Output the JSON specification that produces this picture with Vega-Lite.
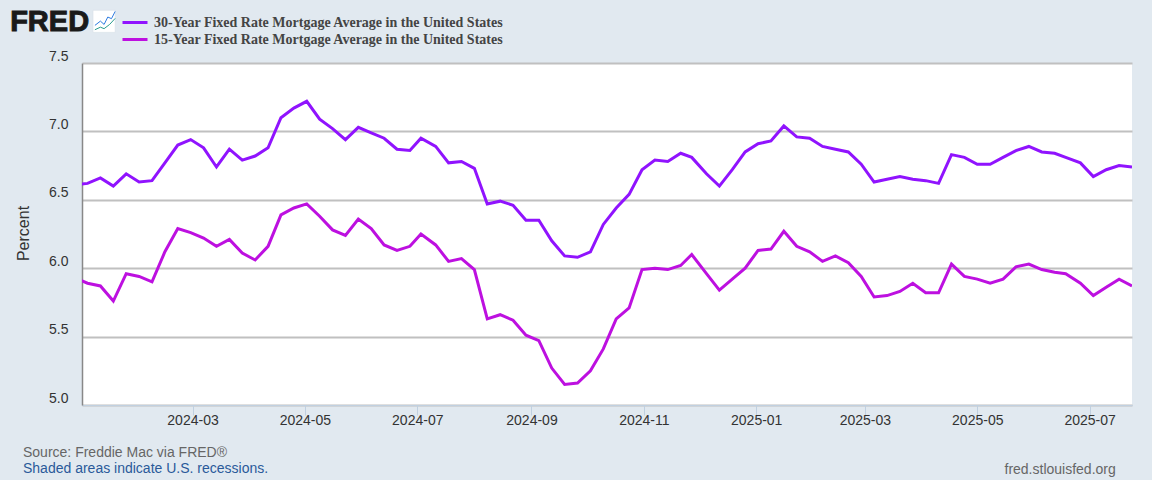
{"$schema":"https://vega.github.io/schema/vega-lite/v6.json","width":1050,"height":342,"autosize":{"type":"none"},"padding":{"left":82,"top":63,"right":20,"bottom":75},"background":"#e1e9f0","view":{"fill":"#ffffff","stroke":null},"config":{"font":"Liberation Sans"},
"title":{"text":"Source: Freddie Mac via FRED®","subtitle":"Shaded areas indicate U.S. recessions.","orient":"bottom","anchor":"start","frame":"group","dx":-59,"offset":-30,"font":"Liberation Sans","fontSize":14,"fontWeight":"normal","color":"#666666","subtitleFont":"Liberation Sans","subtitleFontSize":14,"subtitleColor":"#2a5a9a","subtitlePadding":2},
"datasets":{"rates":[
{"date":"2023-12-28","r30":6.61,"r15":5.93},{"date":"2024-01-04","r30":6.62,"r15":5.89},{"date":"2024-01-11","r30":6.66,"r15":5.87},{"date":"2024-01-18","r30":6.60,"r15":5.76},{"date":"2024-01-25","r30":6.69,"r15":5.96},{"date":"2024-02-01","r30":6.63,"r15":5.94},{"date":"2024-02-08","r30":6.64,"r15":5.90},{"date":"2024-02-15","r30":6.77,"r15":6.12},{"date":"2024-02-22","r30":6.90,"r15":6.29},{"date":"2024-02-29","r30":6.94,"r15":6.26},{"date":"2024-03-07","r30":6.88,"r15":6.22},{"date":"2024-03-14","r30":6.74,"r15":6.16},{"date":"2024-03-21","r30":6.87,"r15":6.21},{"date":"2024-03-28","r30":6.79,"r15":6.11},{"date":"2024-04-04","r30":6.82,"r15":6.06},{"date":"2024-04-11","r30":6.88,"r15":6.16},{"date":"2024-04-18","r30":7.10,"r15":6.39},{"date":"2024-04-25","r30":7.17,"r15":6.44},{"date":"2024-05-02","r30":7.22,"r15":6.47},{"date":"2024-05-09","r30":7.09,"r15":6.38},{"date":"2024-05-16","r30":7.02,"r15":6.28},{"date":"2024-05-23","r30":6.94,"r15":6.24},{"date":"2024-05-30","r30":7.03,"r15":6.36},{"date":"2024-06-06","r30":6.99,"r15":6.29},{"date":"2024-06-13","r30":6.95,"r15":6.17},{"date":"2024-06-20","r30":6.87,"r15":6.13},{"date":"2024-06-27","r30":6.86,"r15":6.16},{"date":"2024-07-03","r30":6.95,"r15":6.25},{"date":"2024-07-11","r30":6.89,"r15":6.17},{"date":"2024-07-18","r30":6.77,"r15":6.05},{"date":"2024-07-25","r30":6.78,"r15":6.07},{"date":"2024-08-01","r30":6.73,"r15":5.99},{"date":"2024-08-08","r30":6.47,"r15":5.63},{"date":"2024-08-15","r30":6.49,"r15":5.66},{"date":"2024-08-22","r30":6.46,"r15":5.62},{"date":"2024-08-29","r30":6.35,"r15":5.51},{"date":"2024-09-05","r30":6.35,"r15":5.47},{"date":"2024-09-12","r30":6.20,"r15":5.27},{"date":"2024-09-19","r30":6.09,"r15":5.15},{"date":"2024-09-26","r30":6.08,"r15":5.16},{"date":"2024-10-03","r30":6.12,"r15":5.25},{"date":"2024-10-10","r30":6.32,"r15":5.41},{"date":"2024-10-17","r30":6.44,"r15":5.63},{"date":"2024-10-24","r30":6.54,"r15":5.71},{"date":"2024-10-31","r30":6.72,"r15":5.99},{"date":"2024-11-07","r30":6.79,"r15":6.00},{"date":"2024-11-14","r30":6.78,"r15":5.99},{"date":"2024-11-21","r30":6.84,"r15":6.02},{"date":"2024-11-27","r30":6.81,"r15":6.10},{"date":"2024-12-05","r30":6.69,"r15":5.96},{"date":"2024-12-12","r30":6.60,"r15":5.84},{"date":"2024-12-19","r30":6.72,"r15":5.92},{"date":"2024-12-26","r30":6.85,"r15":6.00},{"date":"2025-01-02","r30":6.91,"r15":6.13},{"date":"2025-01-09","r30":6.93,"r15":6.14},{"date":"2025-01-16","r30":7.04,"r15":6.27},{"date":"2025-01-23","r30":6.96,"r15":6.16},{"date":"2025-01-30","r30":6.95,"r15":6.12},{"date":"2025-02-06","r30":6.89,"r15":6.05},{"date":"2025-02-13","r30":6.87,"r15":6.09},{"date":"2025-02-20","r30":6.85,"r15":6.04},{"date":"2025-02-27","r30":6.76,"r15":5.94},{"date":"2025-03-06","r30":6.63,"r15":5.79},{"date":"2025-03-13","r30":6.65,"r15":5.80},{"date":"2025-03-20","r30":6.67,"r15":5.83},{"date":"2025-03-27","r30":6.65,"r15":5.89},{"date":"2025-04-03","r30":6.64,"r15":5.82},{"date":"2025-04-10","r30":6.62,"r15":5.82},{"date":"2025-04-17","r30":6.83,"r15":6.03},{"date":"2025-04-24","r30":6.81,"r15":5.94},{"date":"2025-05-01","r30":6.76,"r15":5.92},{"date":"2025-05-08","r30":6.76,"r15":5.89},{"date":"2025-05-15","r30":6.81,"r15":5.92},{"date":"2025-05-22","r30":6.86,"r15":6.01},{"date":"2025-05-29","r30":6.89,"r15":6.03},{"date":"2025-06-05","r30":6.85,"r15":5.99},{"date":"2025-06-12","r30":6.84,"r15":5.97},{"date":"2025-06-18","r30":6.81,"r15":5.96},{"date":"2025-06-26","r30":6.77,"r15":5.89},{"date":"2025-07-03","r30":6.67,"r15":5.80},{"date":"2025-07-10","r30":6.72,"r15":5.86},{"date":"2025-07-17","r30":6.75,"r15":5.92},{"date":"2025-07-24","r30":6.74,"r15":5.87}],
"icon":[
{"date":"2024-01-08","v":7.775,"s":"b"},{"date":"2024-01-11","v":7.806,"s":"b"},{"date":"2024-01-13","v":7.782,"s":"b"},{"date":"2024-01-15","v":7.836,"s":"b"},{"date":"2024-01-17","v":7.824,"s":"b"},{"date":"2024-01-19","v":7.877,"s":"b"},
{"date":"2024-01-08","v":7.743,"s":"g"},{"date":"2024-01-11","v":7.762,"s":"g"},{"date":"2024-01-13","v":7.751,"s":"g"},{"date":"2024-01-16","v":7.782,"s":"g"},{"date":"2024-01-19","v":7.826,"s":"g"}]},
"layer":[
{"data":{"name":"rates"},"transform":[{"fold":["r30","r15"],"as":["k","rate"]},{"calculate":"datum.k==='r30'?'30-Year Fixed Rate Mortgage Average in the United States':'15-Year Fixed Rate Mortgage Average in the United States'","as":"series"}],
"mark":{"type":"line","clip":true,"strokeWidth":3,"strokeJoin":"miter","interpolate":"linear"},
"encoding":{
"x":{"field":"date","type":"temporal","scale":{"type":"utc","domain":[{"year":2024,"month":1,"date":1,"utc":true},{"year":2025,"month":7,"date":24,"utc":true}]},
"axis":{"title":"fred.stlouisfed.org","titleX":922,"titleY":57,"titleAlign":"left","titleFontSize":14,"titleFontWeight":"normal","titleColor":"#666666","titleFont":"Liberation Sans","grid":false,"domain":true,"domainColor":"#c0d0e0","domainWidth":1,"tickColor":"#c0d0e0","tickSize":10,"tickWidth":1,"labelColor":"#333333","labelFontSize":14,"labelPadding":-2,"labelAlign":"center","labelFont":"Liberation Sans","labelExpr":"utcFormat(datum.value,'%Y-%m')","values":[{"year":2024,"month":3,"date":1,"utc":true},{"year":2024,"month":5,"date":1,"utc":true},{"year":2024,"month":7,"date":1,"utc":true},{"year":2024,"month":9,"date":1,"utc":true},{"year":2024,"month":11,"date":1,"utc":true},{"year":2025,"month":1,"date":1,"utc":true},{"year":2025,"month":3,"date":1,"utc":true},{"year":2025,"month":5,"date":1,"utc":true},{"year":2025,"month":7,"date":1,"utc":true}]}},
"y":{"field":"rate","type":"quantitative","scale":{"domain":[5,7.5],"nice":false,"zero":false},
"axis":{"title":"Percent","titleX":-59,"titleY":170,"titleFontSize":16,"titleFontWeight":"normal","titleColor":"#333333","titleFont":"Liberation Sans","titleAlign":"center","titleBaseline":"middle","values":[5,5.5,6,6.5,7,7.5],"format":".1f","grid":true,"gridColor":"#c0c0c0","gridWidth":2,"domainColor":"#888888","domainWidth":1.5,"ticks":false,"labelColor":"#333333","labelFontSize":14,"labelPadding":14,"labelBaseline":"alphabetic","labelOffset":-3,"labelFont":"Liberation Sans"}},
"color":{"field":"series","type":"nominal","scale":{"domain":["30-Year Fixed Rate Mortgage Average in the United States","15-Year Fixed Rate Mortgage Average in the United States"],"range":["#9013fe","#bd10e0"]},
"legend":{"title":null,"orient":"none","legendX":43,"legendY":-50.5,"symbolType":"M-1.47,0H1.47","symbolSize":289,"symbolStrokeWidth":3,"labelFont":"Liberation Serif","labelFontSize":14,"labelFontWeight":"bold","labelColor":"#444444","labelLimit":500,"rowPadding":0,"labelOffset":9,"padding":0}}}},
{"data":{"values":[{"label":"FRED"}]},"mark":{"type":"text","align":"left","baseline":"alphabetic","font":"Liberation Sans","fontWeight":"bold","fontSize":29,"color":"#1a1a1a","stroke":"#1a1a1a","strokeWidth":1},"encoding":{"x":{"datum":{"year":2023,"month":11,"date":23,"utc":true},"type":"temporal"},"y":{"datum":7.731,"type":"quantitative"},"text":{"field":"label"}}},
{"data":{"values":[{"icon":"box"}]},"mark":{"type":"rect","fill":"#ffffff","stroke":"#d5dde5","strokeWidth":0.5},"encoding":{"x":{"datum":{"year":2024,"month":1,"date":7,"utc":true},"type":"temporal"},"x2":{"datum":{"year":2024,"month":1,"date":19,"utc":true}},"y":{"datum":7.885,"type":"quantitative"},"y2":{"datum":7.724}}},
{"data":{"name":"icon"},"transform":[{"filter":"datum.s==='b'"}],"mark":{"type":"line","color":"#2d7be0","strokeWidth":1,"clip":false},"encoding":{"x":{"field":"date","type":"temporal"},"y":{"field":"v","type":"quantitative"}}},
{"data":{"name":"icon"},"transform":[{"filter":"datum.s==='g'"}],"mark":{"type":"line","color":"#2a9d8f","strokeWidth":1,"clip":false},"encoding":{"x":{"field":"date","type":"temporal"},"y":{"field":"v","type":"quantitative"}}}
]}
